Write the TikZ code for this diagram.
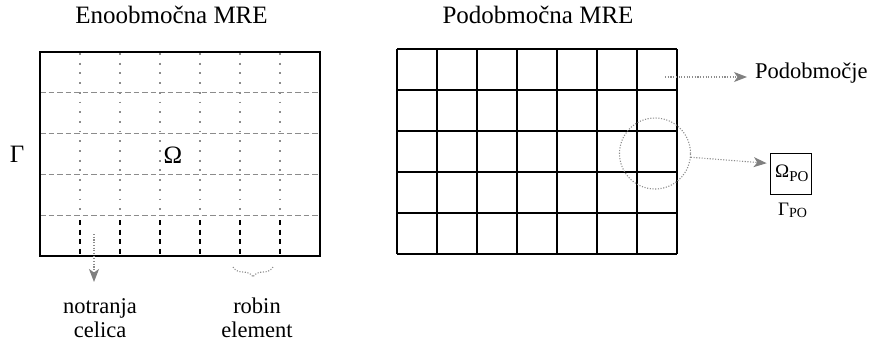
\documentclass[tikz,border=0pt]{standalone}
\usepackage{fontspec}
\setmainfont{Liberation Serif}
\usetikzlibrary{arrows.meta,decorations.pathreplacing}

\definecolor{guide}{gray}{0.55}
\definecolor{tipgray}{gray}{0.5}

\tikzset{
  frame/.style={black, line width=2pt},
  cellrule/.style={guide, line width=1pt, dash pattern=on 5.5pt off 3pt},
  celldot/.style={guide, line width=1.8pt, dash pattern=on 1.8pt off 7.9pt},
  robinedge/.style={black, line width=2.2pt, dash pattern=on 5pt off 4.6pt},
  dotline/.style={guide, line width=1.1pt, dash pattern=on 1.1pt off 1.6pt},
  pointer/.style={dotline, -{Stealth[length=13pt,width=10pt,inset=3.5pt,color=tipgray,fill=tipgray]}},
  title/.style={font=\fontsize{25}{28}\selectfont},
  label/.style={font=\fontsize{22.5}{24}\selectfont, align=center, inner sep=0pt},
  symbol/.style={font=\fontsize{25}{28}\selectfont, inner sep=0pt},
}

\begin{document}
\begin{tikzpicture}[x=1pt, y=-1pt]
  \useasboundingbox (0,0) rectangle (869,343);

  % ---- single-domain mesh ----
  \node[title] (t1) at (171.5,15) {Enoobmočna MRE};
  % inner cell boundaries
  \foreach \r in {1,2,3,4}
    \draw[cellrule] (40,{52+40.8*\r}) -- (320,{52+40.8*\r});
  \foreach \c in {1,...,6}
    \draw[celldot] ({40+40*\c},53) -- ({40+40*\c},214);
  % Robin elements along the bottom edge
  \foreach \c in {1,...,6}
    \draw[robinedge] ({40+40*\c},220) -- ({40+40*\c},256);
  \draw[frame] (40,52) rectangle (320,256);

  \node[symbol] (gam) at (17,154) {Γ};
  \node[symbol] (om) at (173,155) {Ω};

  % annotations under the mesh
  \node[label, anchor=north] (nt) at (100,298) {notranja\\celica};
  \coordinate (ntsrc) at (94,234);
  \draw[pointer] (ntsrc) -- (ntsrc |- nt.north) [shorten >=16pt];

  \node[label, anchor=north] (rb) at (257,298) {robin\\element};
  \draw[dotline, decorate, decoration={brace, mirror, amplitude=10pt}]
    (233,267) -- (273,267);

  % ---- subdomain mesh ----
  \node[title] (t2) at (538,15) {Podobmočna MRE};
  \foreach \c in {0,...,7}
    \draw[frame] ({397+40*\c},49) -- ({397+40*\c},254);
  \foreach \r in {0,...,5}
    \draw[frame] (397,{49+41*\r}) -- (677,{49+41*\r});

  \node[label, anchor=base west] (sub) at (755,78) {Podobmočje};
  \coordinate (subsrc) at (665,77);
  \draw[pointer] (subsrc) -- (subsrc -| sub.west) [shorten >=8pt];

  \node[draw=guide, dotline, circle, minimum size=71pt, inner sep=0pt] (circ) at (655,153.5) {};

  \node[draw, line width=1pt, minimum size=41pt, inner sep=0pt] (po) at (791.2,173.7) {};
  \node[anchor=base west, inner sep=0pt] (opo) at (775,177.3)
    {\fontsize{19}{19}\selectfont Ω\raisebox{-4.5pt}{\fontsize{15}{15}\selectfont PO}};
  \node[anchor=base west, inner sep=0pt] (gpo) at (778,215)
    {\fontsize{19}{19}\selectfont Γ\raisebox{-2.5pt}{\fontsize{14}{14}\selectfont PO}};

  \draw[pointer] (circ.-6) -- ([xshift=-3.5pt, yshift=10.5pt]po.west);
\end{tikzpicture}
\end{document}
